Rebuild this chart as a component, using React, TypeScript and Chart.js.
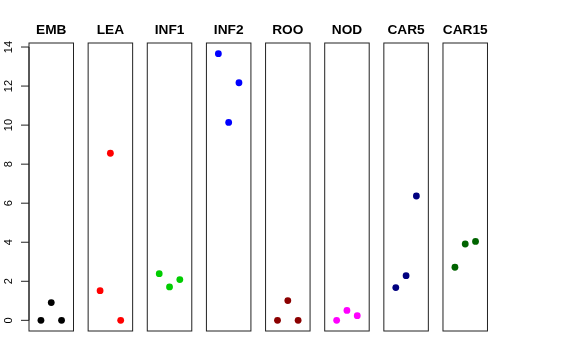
import React, { useEffect, useRef } from "react";
import { Chart, registerables } from "chart.js";

Chart.register(...registerables);

const categories = ["EMB", "LEA", "INF1", "INF2", "ROO", "NOD", "CAR5", "CAR15"];
const replicates = [1, 2, 3];
const EMB = [0, 0.91, 0];
const LEA = [1.52, 8.56, 0];
const INF1 = [2.39, 1.71, 2.09];
const INF2 = [13.66, 10.14, 12.17];
const ROO = [0, 1.01, 0];
const NOD = [0, 0.51, 0.24];
const CAR5 = [1.68, 2.29, 6.37];
const CAR15 = [2.72, 3.91, 4.04];
const seriesValues = [EMB, LEA, INF1, INF2, ROO, NOD, CAR5, CAR15];
const colors = ["#000000", "#FF0000", "#00CD00", "#0000FF", "#8B0000", "#FF00FF", "#000080", "#006400"];
const yTicks = [0, 2, 4, 6, 8, 10, 12, 14];

const W = 576;
const H = 360;
const firstLeft = 29;
const pitch = 59.14;
const panelW = 44.5;
const padTop = 43;
const padBottom = 29;

const allVals = seriesValues.flat();
const dLo = Math.min(...allVals);
const dHi = Math.max(...allVals);
const yExt = (dHi - dLo) * 0.04;
const xLo = 0;
const xHi = replicates.length + 1;
const xExt = (xHi - xLo) * 0.04;

function Panel({ idx }: { idx: number }) {
  const ref = useRef<HTMLCanvasElement>(null);
  useEffect(() => {
    const canvas = ref.current!;
    const left = firstLeft + idx * pitch;
    const right = left + panelW;
    const plugin = {
      id: "panelDeco" + idx,
      afterDraw(chart: any) {
        const ctx = chart.ctx;
        const a = chart.chartArea;
        ctx.save();
        ctx.strokeStyle = "#222";
        ctx.lineWidth = 1;
        ctx.strokeRect(a.left, a.top, a.right - a.left, a.bottom - a.top);
        ctx.fillStyle = "#000";
        ctx.font = 'bold 13.7px "Liberation Sans", Arial, sans-serif';
        ctx.textAlign = "center";
        ctx.textBaseline = "alphabetic";
        ctx.fillText(categories[idx], (a.left + a.right) / 2, 34);
        if (idx === 0) {
          const ys = chart.scales.y;
          ctx.strokeStyle = "#222";
          ctx.font = '11px "Liberation Sans", Arial, sans-serif';
          ctx.beginPath();
          ctx.moveTo(a.left, ys.getPixelForValue(yTicks[0]));
          ctx.lineTo(a.left, ys.getPixelForValue(yTicks[yTicks.length - 1]));
          ctx.stroke();
          yTicks.forEach((t) => {
            const py = ys.getPixelForValue(t);
            ctx.beginPath();
            ctx.moveTo(a.left - 8, py);
            ctx.lineTo(a.left, py);
            ctx.stroke();
            ctx.save();
            ctx.translate(9, py);
            ctx.rotate(-Math.PI / 2);
            ctx.textAlign = "center";
            ctx.textBaseline = "middle";
            ctx.fillText(String(t), 0, 0);
            ctx.restore();
          });
        }
        ctx.restore();
      },
    };
    const chart = new Chart(canvas, {
      type: "scatter",
      data: {
        datasets: [
          {
            data: replicates.map((r, i) => ({ x: r, y: seriesValues[idx][i] })),
            backgroundColor: colors[idx],
            borderWidth: 0,
            pointRadius: 3.4,
          },
        ],
      },
      options: {
        animation: false,
        responsive: false,
        events: [],
        layout: { padding: { left, right: W - right, top: padTop, bottom: padBottom } },
        plugins: { legend: { display: false }, tooltip: { enabled: false } },
        scales: {
          x: { type: "linear", min: xLo - xExt, max: xHi + xExt, display: false },
          y: { type: "linear", min: dLo - yExt, max: dHi + yExt, display: false },
        },
      },
      plugins: [plugin],
    });
    return () => chart.destroy();
  }, [idx]);
  return (
    <canvas
      ref={ref}
      width={W}
      height={H}
      style={{ position: "absolute", left: 0, top: 0, width: W, height: H }}
    />
  );
}

export default function App() {
  return (
    <div style={{ position: "fixed", left: 0, top: 0, width: W, height: H, background: "#fff" }}>
      {categories.map((c, i) => (
        <Panel key={c} idx={i} />
      ))}
    </div>
  );
}
